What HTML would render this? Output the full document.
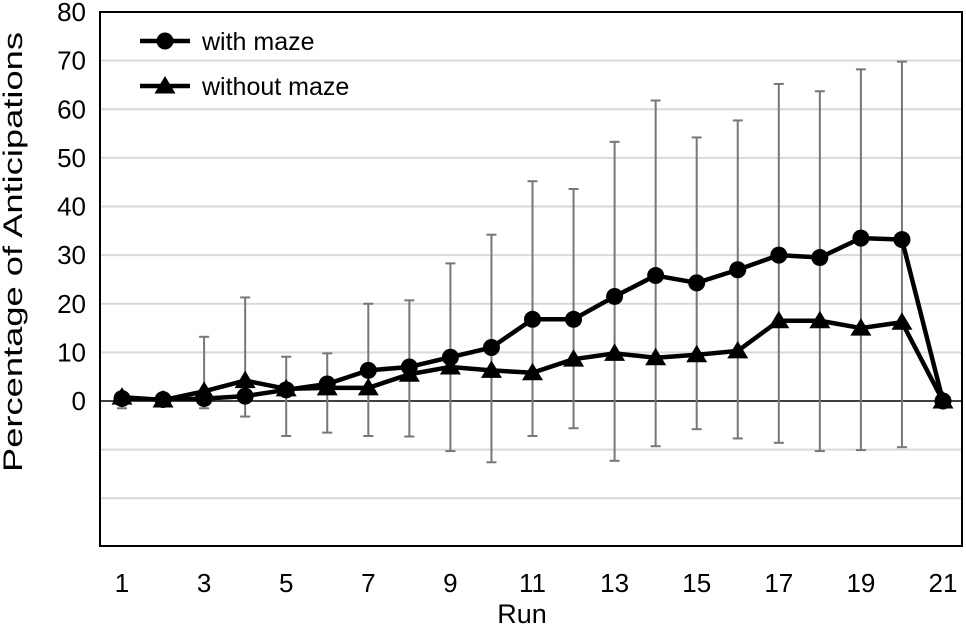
<!DOCTYPE html>
<html><head><meta charset="utf-8"><style>
body{margin:0;background:#fff;}
svg text{font-family:"Liberation Sans",sans-serif;fill:#000;}
</style></head><body>
<svg id="chart" width="966" height="627" xmlns="http://www.w3.org/2000/svg"></svg>
<script>
const runs=[1,2,3,4,5,6,7,8,9,10,11,12,13,14,15,16,17,18,19,20,21];
const withMaze=[0.5,0.3,0.5,1,2.3,3.5,6.3,7,9,11,16.8,16.8,21.5,25.8,24.3,27,30,29.5,33.5,33.2,0];
const withoutMaze=[0.8,0.2,2,4.2,2.5,2.7,2.7,5.5,7,6.3,5.8,8.6,9.8,8.9,9.5,10.3,16.5,16.5,15,16.2,0];
const errUpper=[0.8,null,13.2,21.3,9.1,9.8,20,20.7,28.3,34.2,45.2,43.6,53.3,61.8,54.2,57.7,65.2,63.7,68.2,69.8,null];
const errLower=[-1.5,null,-1.5,-3.2,-7.2,-6.5,-7.2,-7.3,-10.3,-12.6,-7.2,-5.6,-12.3,-9.3,-5.8,-7.7,-8.6,-10.3,-10.1,-9.5,null];
const yTicks=[0,10,20,30,40,50,60,70,80];
const xTicks=[1,3,5,7,9,11,13,15,17,19,21];

const svg=document.getElementById('chart');
const NS='http://www.w3.org/2000/svg';
const L=100,R=962,T=12,B=546;
const y=v=>401-(v)*(401-T)/80;
const x=r=>122+(r-1)*(943-122)/20;
function el(tag,attrs,parent){const e=document.createElementNS(NS,tag);for(const k in attrs)e.setAttribute(k,attrs[k]);(parent||svg).appendChild(e);return e;}

for(let v=-20;v<=70;v+=10){if(v===0)continue;
 const g=el('line',{x1:L,x2:R,y1:y(v),y2:y(v),stroke:'#d9d9d9','stroke-width':2});
 
 }
const frame=el('rect',{x:L,y:T,width:R-L,height:B-T,fill:'none',stroke:'#000','stroke-width':2});


const zero=el('line',{x1:L,x2:R,y1:y(0),y2:y(0),stroke:'#000','stroke-width':1.5});



yTicks.forEach(v=>{const t=el('text',{x:L-14,y:y(v)+9,'text-anchor':'end','font-size':26});t.textContent=v;
 
 });
xTicks.forEach(r=>{const t=el('text',{x:x(r),y:592,'text-anchor':'middle','font-size':26});t.textContent=r;
 
 });
const xt=el('text',{x:522,y:623,'text-anchor':'middle','font-size':27});xt.textContent='Run';


const yt=el('text',{x:0,y:0,'text-anchor':'middle','font-size':27,textLength:440,lengthAdjust:'spacingAndGlyphs',transform:'translate(22,252) rotate(-90)'});yt.textContent='Percentage of Anticipations';



runs.forEach((r,i)=>{if(errUpper[i]==null)return;
 const g=el('g',{stroke:'#777','stroke-width':2});
 
 
 el('line',{x1:x(r),x2:x(r),y1:y(errUpper[i]),y2:y(errLower[i])},g);
 el('line',{x1:x(r)-5,x2:x(r)+5,y1:y(errUpper[i]),y2:y(errUpper[i])},g);
 el('line',{x1:x(r)-5,x2:x(r)+5,y1:y(errLower[i]),y2:y(errLower[i])},g);});

function tri(cx,cy,s){return `${cx},${cy-s} ${cx-s*1.05},${cy+s*0.75} ${cx+s*1.05},${cy+s*0.75}`;}
function series(data,name,marker){
 const p=el('polyline',{points:runs.map((r,i)=>x(r)+','+y(data[i])).join(' '),fill:'none',stroke:'#000','stroke-width':4.5,'stroke-linejoin':'round'});
 
 
 runs.forEach((r,i)=>{let m;
  if(marker==='circle')m=el('circle',{cx:x(r),cy:y(data[i]),r:8.5,fill:'#000'});
  else m=el('polygon',{points:tri(x(r),y(data[i]),10),fill:'#000'});
  
  });}
series(withoutMaze,'without-maze','triangle');
series(withMaze,'with-maze','circle');

const lg=el('g',{});


el('line',{x1:140,x2:190,y1:41,y2:41,stroke:'#000','stroke-width':4.5},lg);
el('circle',{cx:165,cy:41,r:8.5,fill:'#000'},lg);
const l1=el('text',{x:202,y:50,'font-size':25},lg);l1.textContent='with maze';


el('line',{x1:140,x2:190,y1:86,y2:86,stroke:'#000','stroke-width':4.5},lg);
el('polygon',{points:tri(165,86,10),fill:'#000'},lg);
const l2=el('text',{x:202,y:95,'font-size':25},lg);l2.textContent='without maze';


</script>
</body></html>
